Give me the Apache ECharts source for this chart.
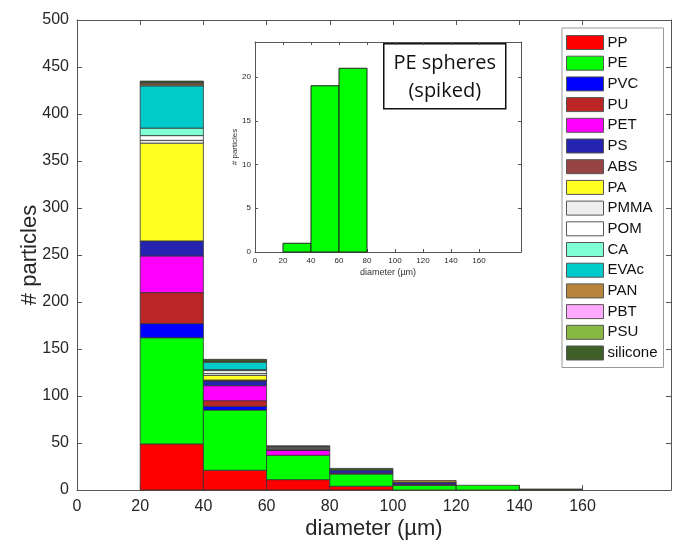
<!DOCTYPE html>
<html>
  <head>
      <meta charset="utf-8">
      <script src="https://cdn.jsdelivr.net/npm/echarts@6/dist/echarts.min.js"></script>
  </head>
  <body style="margin:0">
    <div id="main" style="width: 673px;height:550px;"></div>
    <script type="text/javascript">
        // bins are 20 um wide, starting at these diameters
        var binStart = [20, 40, 60, 80, 100, 120, 140];
        var binWidth = 20;
        var tickValues = [0, 20, 40, 60, 80, 100, 120, 140, 160];

        // particle counts per bin, one array per polymer (stacked in this order)
        var PP       = [49, 21, 11, 4, 0, 0, 0];
        var PE       = [113, 64, 26, 13, 5, 5, 0];
        var PVC      = [15, 4, 0, 0, 0, 0, 0];
        var PU       = [33, 6, 0, 0, 0, 0, 0];
        var PET      = [39, 16, 5, 1, 1, 0, 0];
        var PS       = [16, 5, 1, 3, 2, 0, 0];
        var ABS      = [0, 1, 0, 0, 0, 0, 0];
        var PA       = [104, 5, 0, 0, 0, 0, 0];
        var PMMA     = [3, 2, 1, 0, 0, 0, 0];
        var POM      = [5, 3, 1, 0, 0, 0, 0];
        var CA       = [8, 1, 0, 0, 0, 0, 0];
        var EVAc     = [45, 8, 0, 0, 0, 0, 0];
        var PAN      = [2, 1, 0, 0, 2, 0, 0];
        var PBT      = [1, 0, 1, 0, 0, 0, 0];
        var PSU      = [0, 0, 0, 0, 0, 0, 0];
        var silicone = [2, 2, 1, 2, 0, 0, 1];

        // inset: spiked PE spheres
        var insetBins = [20, 40, 60];
        var insetPE = [1, 19, 21];

        var polymerNames = ['PP', 'PE', 'PVC', 'PU', 'PET', 'PS', 'ABS', 'PA', 'PMMA', 'POM', 'CA', 'EVAc', 'PAN', 'PBT', 'PSU', 'silicone'];
        var polymerCounts = [PP, PE, PVC, PU, PET, PS, ABS, PA, PMMA, POM, CA, EVAc, PAN, PBT, PSU, silicone];
        var polymerColors = ['#ff0000', '#00ff00', '#0000ff', '#bb2525', '#ff00ff', '#2424b0', '#994444', '#ffff22',
                             '#eeeeee', '#ffffff', '#7fffd4', '#00caca', '#b8843c', '#ffaaff', '#88b844', '#3f5f28'];

        var font = 'Liberation Sans, Arial, sans-serif';
        var axisColor = '#555';

        var renderBar = function (params, api) {
            var p0 = api.coord([api.value(0), api.value(3)]);
            var p1 = api.coord([api.value(1), api.value(2)]);
            return {
                type: 'rect',
                shape: {x: p0[0], y: p0[1], width: p1[0] - p0[0], height: p1[1] - p0[1]},
                style: api.style()
            };
        };

        var series = [];
        var base = binStart.map(function () { return 0; });
        polymerNames.forEach(function (name, k) {
            var data = [];
            polymerCounts[k].forEach(function (v, i) {
                if (v > 0) {
                    data.push([binStart[i], binStart[i] + binWidth, base[i], base[i] + v]);
                    base[i] += v;
                }
            });
            series.push({
                type: 'custom',
                name: name,
                xAxisIndex: 0,
                yAxisIndex: 0,
                renderItem: renderBar,
                encode: {x: [0, 1], y: [2, 3]},
                itemStyle: {color: polymerColors[k], borderColor: '#333', borderWidth: 0.8},
                data: data
            });
        });

        series.push({
            type: 'custom',
            name: 'inset',
            xAxisIndex: 2,
            yAxisIndex: 2,
            renderItem: renderBar,
            encode: {x: [0, 1], y: [2, 3]},
            itemStyle: {color: '#00ff00', borderColor: '#222', borderWidth: 1},
            data: insetBins.map(function (b, i) { return [b, b + binWidth, 0, insetPE[i]]; })
        });

        // helper for the box-style axes (ticks on all four sides)
        var makeX = function (grid, pos, max, labels, fs) {
            return {
                type: 'value', gridIndex: grid, position: pos, min: 0, max: max,
                axisLine: {show: true, onZero: false, lineStyle: {color: axisColor, width: 1}},
                axisTick: {show: true, inside: true, length: grid === 0 ? 5 : 3, customValues: tickValues, lineStyle: {color: axisColor}},
                axisLabel: {show: labels, customValues: tickValues, fontSize: fs, color: '#262626', fontFamily: font, margin: grid === 0 ? 9 : 5},
                splitLine: {show: false}
            };
        };
        var makeY = function (grid, pos, max, ticks, labels, fs) {
            return {
                type: 'value', gridIndex: grid, position: pos, min: 0, max: max,
                axisLine: {show: true, onZero: false, lineStyle: {color: axisColor, width: 1}},
                axisTick: {show: true, inside: true, length: grid === 0 ? 5 : 3, customValues: ticks, lineStyle: {color: axisColor}},
                axisLabel: {show: labels, customValues: ticks, fontSize: fs, color: '#262626', fontFamily: font, margin: grid === 0 ? 8 : 4},
                splitLine: {show: false}
            };
        };

        var mainY = [0, 50, 100, 150, 200, 250, 300, 350, 400, 450, 500];
        var insetY = [0, 5, 10, 15, 20];

        var xMain = makeX(0, 'bottom', 188, true, 16);
        xMain.name = 'diameter (\u00b5m)';
        xMain.nameLocation = 'middle';
        xMain.nameGap = 28;
        xMain.nameMoveOverlap = false;
        xMain.nameTextStyle = {fontSize: 22, color: '#262626', fontFamily: font};

        var yMain = makeY(0, 'left', 500, mainY, true, 16);
        yMain.name = '# particles';
        yMain.nameLocation = 'middle';
        yMain.nameGap = 36;
        yMain.nameMoveOverlap = false;
        yMain.nameTextStyle = {fontSize: 22, color: '#262626', fontFamily: font};

        var xInset = makeX(1, 'bottom', 190, true, 8);
        xInset.name = 'diameter (\u00b5m)';
        xInset.nameLocation = 'middle';
        xInset.nameGap = 16;
        xInset.nameMoveOverlap = false;
        xInset.nameTextStyle = {fontSize: 9, color: '#333', fontFamily: font};

        var yInset = makeY(1, 'left', 24, insetY, true, 8);
        yInset.name = '# particles';
        yInset.nameLocation = 'middle';
        yInset.nameGap = 16;
        yInset.nameMoveOverlap = false;
        yInset.nameTextStyle = {fontSize: 8, color: '#333', fontFamily: font};

        var myChart = echarts.init(document.getElementById('main'));
        var option = {
            animation: false,
            backgroundColor: '#fff',
            grid: [
                {left: 77, right: 2, top: 20, bottom: 60},
                {left: 255, top: 42, width: 266, height: 210, show: true, backgroundColor: '#fff', borderWidth: 0}
            ],
            xAxis: [xMain, makeX(0, 'top', 188, false, 16), xInset, makeX(1, 'top', 190, false, 8)],
            yAxis: [yMain, makeY(0, 'right', 500, mainY, false, 16), yInset, makeY(1, 'right', 24, insetY, false, 8)],
            legend: {
                data: polymerNames,
                orient: 'vertical',
                left: 562,
                top: 28,
                icon: 'rect',
                itemWidth: 37,
                itemHeight: 14,
                itemGap: 5.7,
                padding: [7, 6, 7, 4],
                borderColor: '#999',
                borderWidth: 1,
                backgroundColor: '#fff',
                itemStyle: {borderColor: '#555', borderWidth: 1},
                textStyle: {fontSize: 15, color: '#111', fontFamily: font, padding: [0, 0, 0, -1]}
            },
            graphic: [{
                type: 'group',
                left: 383,
                top: 43,
                children: [
                    {type: 'rect', shape: {x: 0, y: 0, width: 122, height: 65}, style: {fill: '#fff', stroke: '#111', lineWidth: 1.5}},
                    {type: 'text', x: 61, y: 20, style: {text: 'PE spheres', fontSize: 20, fontFamily: 'Open Sans, sans-serif', fill: '#111', align: 'center', verticalAlign: 'middle'}},
                    {type: 'text', x: 61, y: 48, style: {text: '(spiked)', fontSize: 20, fontFamily: 'Open Sans, sans-serif', fill: '#111', align: 'center', verticalAlign: 'middle'}}
                ]
            }],
            series: series
        };
        myChart.setOption(option);
    </script>
  </body>
</html>
